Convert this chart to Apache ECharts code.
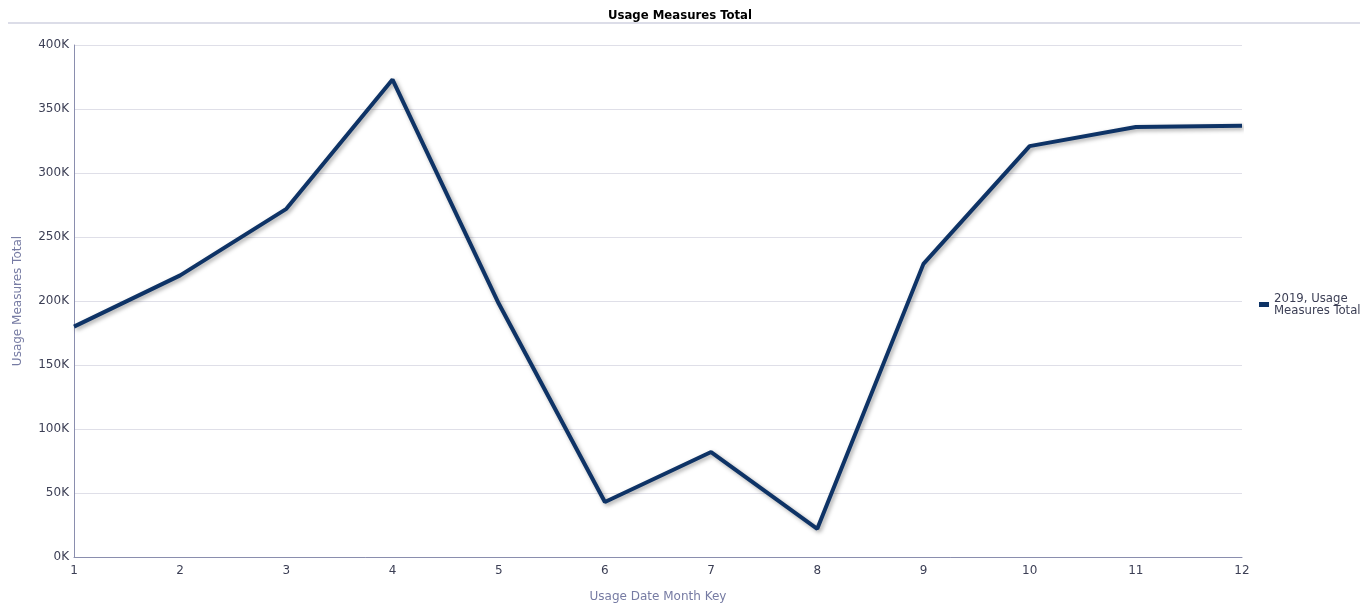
<!DOCTYPE html>
<html>
<head>
<meta charset="utf-8">
<script src="https://cdn.jsdelivr.net/npm/echarts@6/dist/echarts.min.js"></script>
<style>
  html, body { margin: 0; padding: 0; background: #fff; }
  #chart { width: 1360px; height: 605px; }
</style>
</head>
<body>
<div id="chart"></div>
<script>
const months = ['1', '2', '3', '4', '5', '6', '7', '8', '9', '10', '11', '12']
const usageTotal = [180000, 220000, 272000, 373000, 198000, 43000, 82000, 22000, 229000, 321000, 336000, 337000]
const seriesName = '2019, Usage\nMeasures Total'

const axisColor = '#8a8eae'
const labelColor = '#3c3f55'
const nameColor = '#767ba3'

const chart = echarts.init(document.getElementById('chart'))

chart.setOption({
  animation: false,
  title: {
    text: 'Usage Measures Total',
    left: 'center',
    top: 4,
    textStyle: { fontFamily: 'DejaVu Sans Condensed', fontSize: 13, fontWeight: 'bold', color: '#000' }
  },
  graphic: [{
    type: 'rect',
    shape: { x: 8, y: 22, width: 1352, height: 2 },
    style: { fill: '#dcdde8' }
  }],
  legend: {
    orient: 'vertical',
    left: 1254,
    top: 287,
    itemWidth: 10,
    itemHeight: 5,
    itemGap: 4,
    icon: 'rect',
    textStyle: { fontFamily: 'DejaVu Sans Condensed', fontSize: 13, color: labelColor, lineHeight: 12 },
    data: [seriesName]
  },
  grid: { left: 74, right: 118, top: 45, bottom: 48, outerBoundsMode: 'none' },
  xAxis: {
    type: 'category',
    data: months,
    boundaryGap: false,
    name: 'Usage Date Month Key',
    nameLocation: 'middle',
    nameGap: 34,
    nameTextStyle: { fontFamily: 'DejaVu Sans', fontSize: 12, color: nameColor },
    axisLine: { lineStyle: { color: axisColor, width: 1 } },
    axisTick: { show: false },
    axisLabel: { fontFamily: 'DejaVu Sans', fontSize: 12, color: labelColor, margin: 8 },
    splitLine: { show: false }
  },
  yAxis: {
    type: 'value',
    min: 0,
    max: 400000,
    interval: 50000,
    name: 'Usage Measures Total',
    nameLocation: 'middle',
    nameGap: 50,
    nameTextStyle: { fontFamily: 'DejaVu Sans', fontSize: 12, color: nameColor },
    axisLine: { show: true, lineStyle: { color: axisColor, width: 1 } },
    axisTick: { show: false },
    axisLabel: {
      fontFamily: 'DejaVu Sans', fontSize: 12, color: labelColor, margin: 5,
      formatter: v => (v / 1000) + 'K'
    },
    splitLine: { lineStyle: { color: '#dfdfe8', width: 1 } }
  },
  series: [{
    name: seriesName,
    type: 'line',
    data: usageTotal,
    symbol: 'none',
    itemStyle: { color: '#0e3366' },
    lineStyle: {
      color: '#0e3366',
      width: 4,
      shadowColor: 'rgba(0,0,0,0.35)',
      shadowBlur: 4,
      shadowOffsetX: 2,
      shadowOffsetY: 2
    }
  }]
})
</script>
</body>
</html>
